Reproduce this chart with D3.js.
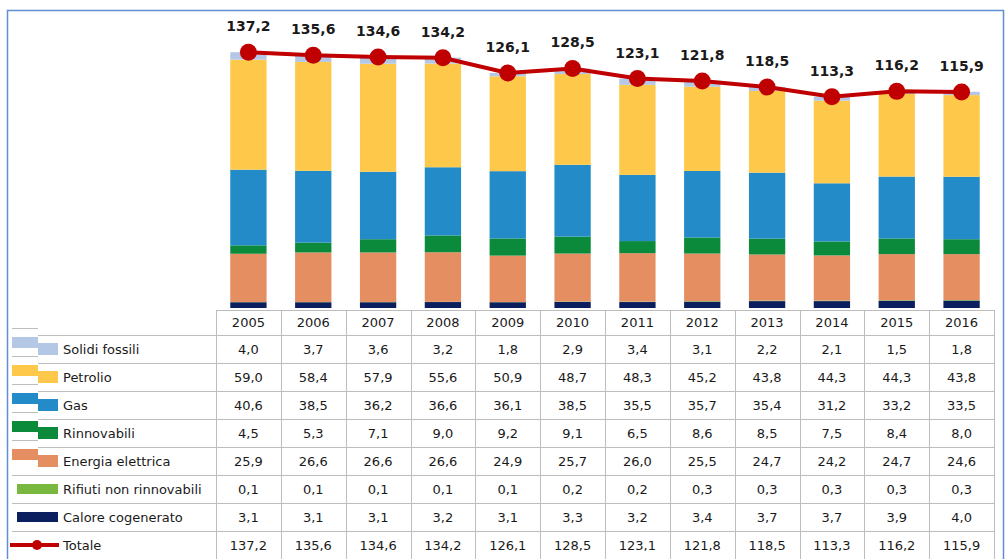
<!DOCTYPE html>
<html>
<head>
<meta charset="utf-8">
<script src="https://cdn.jsdelivr.net/npm/d3@7"></script>
<style>
  body { margin: 0; background: #fff; }
  svg text { font-family: "DejaVu Sans", Tahoma, sans-serif; fill: #1a1a1a; }
</style>
</head>
<body>
<div id="chart"></div>
<script>
// data
var years = ["2005","2006","2007","2008","2009","2010","2011","2012","2013","2014","2015","2016"];

var solidiFossili = [4.0, 3.7, 3.6, 3.2, 1.8, 2.9, 3.4, 3.1, 2.2, 2.1, 1.5, 1.8];
var petrolio      = [59.0, 58.4, 57.9, 55.6, 50.9, 48.7, 48.3, 45.2, 43.8, 44.3, 44.3, 43.8];
var gas           = [40.6, 38.5, 36.2, 36.6, 36.1, 38.5, 35.5, 35.7, 35.4, 31.2, 33.2, 33.5];
var rinnovabili   = [4.5, 5.3, 7.1, 9.0, 9.2, 9.1, 6.5, 8.6, 8.5, 7.5, 8.4, 8.0];
var energiaEl     = [25.9, 26.6, 26.6, 26.6, 24.9, 25.7, 26.0, 25.5, 24.7, 24.2, 24.7, 24.6];
var rifiuti       = [0.1, 0.1, 0.1, 0.1, 0.1, 0.2, 0.2, 0.3, 0.3, 0.3, 0.3, 0.3];
var calore        = [3.1, 3.1, 3.1, 3.2, 3.1, 3.3, 3.2, 3.4, 3.7, 3.7, 3.9, 4.0];
var totale        = [137.2, 135.6, 134.6, 134.2, 126.1, 128.5, 123.1, 121.8, 118.5, 113.3, 116.2, 115.9];

// table order (top to bottom)
var series = [
  {name: "Solidi fossili",           values: solidiFossili, color: "#b4c8e6"},
  {name: "Petrolio",                 values: petrolio,      color: "#fec94b"},
  {name: "Gas",                      values: gas,           color: "#228bc8"},
  {name: "Rinnovabili",              values: rinnovabili,   color: "#0c8a3b"},
  {name: "Energia elettrica",        values: energiaEl,     color: "#e48e62"},
  {name: "Rifiuti non rinnovabili",  values: rifiuti,       color: "#78b83e"},
  {name: "Calore cogenerato",        values: calore,        color: "#0b1f5f"}
];
var lineColor = "#c00000";

var W = 1008, H = 559;
var svg = d3.select("#chart").append("svg")
    .attr("width", W).attr("height", H);

// outer frame
svg.append("rect")
    .attr("x", 7.5).attr("y", 10.5)
    .attr("width", 996).attr("height", 560)
    .attr("fill", "#fff")
    .attr("stroke", "#5f8fd2").attr("stroke-width", 1.5);

var tableLeft = 216, tableRight = 994,
    headerTop = 310, headerH = 25, rowH = 28;

var x = d3.scaleBand().domain(years).range([tableLeft, tableRight]).padding(0);
var y = d3.scaleLinear().domain([0, 140]).range([308, 47]);
var barW = x.bandwidth() * 0.56;

// stack from bottom: calore, rifiuti, energia, rinnovabili, gas, petrolio, solidi
var stackOrder = series.slice().reverse();
var rows = years.map(function(yr, i) {
  var o = {year: yr};
  stackOrder.forEach(function(s) { o[s.name] = s.values[i]; });
  return o;
});
var stack = d3.stack().keys(stackOrder.map(function(s) { return s.name; }));
var layers = stack(rows);

var gBars = svg.append("g");
gBars.selectAll("g.layer")
  .data(layers)
  .enter().append("g")
    .attr("class", "layer")
    .attr("fill", function(d, i) { return stackOrder[i].color; })
  .selectAll("rect")
  .data(function(d) { return d; })
  .enter().append("rect")
    .attr("x", function(d) { return x(d.data.year) + (x.bandwidth() - barW) / 2; })
    .attr("width", barW)
    .attr("y", function(d) { return y(d[1]); })
    .attr("height", function(d) { return y(d[0]) - y(d[1]); });

// totale line
var cx = function(d, i) { return x(years[i]) + x.bandwidth() / 2; };
var line = d3.line()
    .x(cx)
    .y(function(d) { return y(d); });

svg.append("path")
    .datum(totale)
    .attr("d", line)
    .attr("fill", "none")
    .attr("stroke", lineColor)
    .attr("stroke-width", 4);

svg.selectAll("circle.tot")
  .data(totale)
  .enter().append("circle")
    .attr("class", "tot")
    .attr("cx", cx)
    .attr("cy", function(d) { return y(d); })
    .attr("r", 8.5)
    .attr("fill", lineColor);

var fmt = function(v) { return d3.format(".1f")(v).replace(".", ","); };

svg.selectAll("text.toplab")
  .data(totale)
  .enter().append("text")
    .attr("class", "toplab")
    .attr("x", cx)
    .attr("y", function(d) { return y(d) - 21; })
    .attr("text-anchor", "middle")
    .attr("font-size", 14)
    .attr("font-weight", "bold")
    .text(fmt);

// data table
var gridColor = "#bdbdbd";
var tbl = svg.append("g");
var tableBottom = headerTop + headerH + rowH * 8;

// header top border
tbl.append("line")
    .attr("x1", tableLeft).attr("x2", tableRight)
    .attr("y1", headerTop + 0.5).attr("y2", headerTop + 0.5)
    .attr("stroke", gridColor);

// vertical lines
var vx = years.map(function(yr) { return x(yr); }).concat([tableRight]);
tbl.selectAll("line.v")
  .data(vx)
  .enter().append("line")
    .attr("class", "v")
    .attr("x1", function(d) { return Math.round(d) + 0.5; })
    .attr("x2", function(d) { return Math.round(d) + 0.5; })
    .attr("y1", headerTop).attr("y2", tableBottom)
    .attr("stroke", gridColor);

// horizontal row lines (legend part is offset like the original render)
var allRows = series.map(function(s) { return s.name; }).concat(["Totale"]);
var rowTop = function(i) { return headerTop + headerH + rowH * i; };
d3.range(allRows.length + 1).forEach(function(i) {
  var yy = Math.round(rowTop(i)) + 0.5;
  var stepped = i < 5;
  tbl.append("line")
      .attr("x1", stepped ? 38 : 12).attr("x2", tableRight)
      .attr("y1", yy).attr("y2", yy)
      .attr("stroke", gridColor);
  if (stepped) {
    tbl.append("line")
        .attr("x1", 12).attr("x2", 38)
        .attr("y1", yy - 7).attr("y2", yy - 7)
        .attr("stroke", gridColor);
  }
});

// year headers
tbl.selectAll("text.yr")
  .data(years)
  .enter().append("text")
    .attr("class", "yr")
    .attr("x", function(d) { return x(d) + x.bandwidth() / 2; })
    .attr("y", headerTop + headerH / 2)
    .attr("dy", "0.35em")
    .attr("text-anchor", "middle")
    .attr("font-size", 13)
    .text(function(d) { return d; });

// legend keys and labels
series.forEach(function(s, i) {
  var cy = rowTop(i) + rowH / 2;
  if (i < 5) {
    tbl.append("rect").attr("x", 12).attr("y", cy - 12).attr("width", 26).attr("height", 11).attr("fill", s.color);
    tbl.append("rect").attr("x", 38).attr("y", cy - 6).attr("width", 20).attr("height", 12).attr("fill", s.color);
  } else {
    tbl.append("rect").attr("x", 17).attr("y", cy - 5).attr("width", 41).attr("height", 10).attr("fill", s.color);
  }
});
var cyT = rowTop(7) + rowH / 2;
tbl.append("line").attr("x1", 10).attr("x2", 59)
    .attr("y1", cyT).attr("y2", cyT)
    .attr("stroke", lineColor).attr("stroke-width", 4);
tbl.append("circle").attr("cx", 37).attr("cy", cyT).attr("r", 5).attr("fill", lineColor);

tbl.selectAll("text.lab")
  .data(allRows)
  .enter().append("text")
    .attr("class", "lab")
    .attr("x", 63)
    .attr("y", function(d, i) { return rowTop(i) + rowH / 2; })
    .attr("dy", "0.35em")
    .attr("font-size", 13)
    .text(function(d) { return d; });

// values
var tableSeries = series.map(function(s) { return s.values; }).concat([totale]);
tableSeries.forEach(function(vals, r) {
  tbl.selectAll("text.val" + r)
    .data(vals)
    .enter().append("text")
      .attr("x", function(d, i) { return x(years[i]) + x.bandwidth() / 2; })
      .attr("y", rowTop(r) + rowH / 2)
      .attr("dy", "0.35em")
      .attr("text-anchor", "middle")
      .attr("font-size", 13)
      .text(fmt);
});
</script>
</body>
</html>
